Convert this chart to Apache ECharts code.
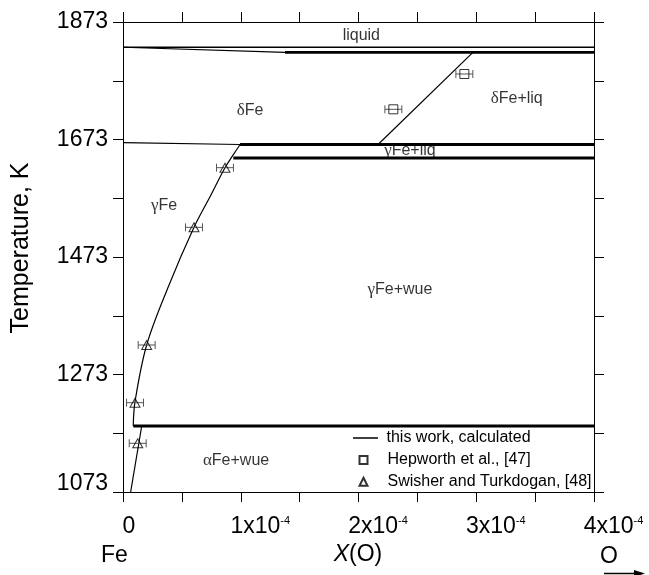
<!DOCTYPE html>
<html><head><meta charset="utf-8">
<script src="https://cdn.jsdelivr.net/npm/echarts@6/dist/echarts.min.js"></script>
<style>html,body{margin:0;padding:0;background:#fff}#c{width:649px;height:575px}</style>
</head><body><div id="c"></div>
<script>
const FONT = 'Liberation Sans, Arial, Helvetica, sans-serif';
const SERIF = 'Liberation Serif, Times New Roman, serif';

// ---- axes ----
const xMin = 0, xMax = 4e-4, xStep = 0.5e-4;
const tMin = 1073, tMax = 1873, tStep = 100;
const yTickLabels = [1073, 1273, 1473, 1673, 1873];
const xTickLabels = [0, 1e-4, 2e-4, 3e-4, 4e-4];

// ---- calculated phase boundaries (this work) ----
const liquidX = [0, 4e-4],            liquidT = [1830, 1830];
const deltaSolidusX = [0, 1.376e-4],  deltaSolidusT = [1830, 1821.4];
const monotecticX = [1.376e-4, 4e-4], monotecticT = [1821.4, 1821.4];
const deltaLiqX = [2.166e-4, 2.972e-4], deltaLiqT = [1664.5, 1821.4];
const deltaGammaX = [0, 0.994e-4],    deltaGammaT = [1667.6, 1664.5];
const peritecticX = [0.994e-4, 4e-4], peritecticT = [1664.5, 1664.5];
const gammaLiqX = [0.937e-4, 4e-4],   gammaLiqT = [1641.5, 1641.5];
const gammaSolvusX = [0.994e-4, 0.93e-4, 0.866e-4, 0.74e-4, 0.603e-4, 0.385e-4, 0.201e-4, 0.102e-4, 0.087e-4];
const gammaSolvusT = [1664.5, 1645, 1625, 1576, 1523.5, 1422.4, 1323.2, 1226.7, 1185.3];
const eutectoidX = [0.087e-4, 4e-4],  eutectoidT = [1185.3, 1185.3];
const alphaSolvusX = [0.159e-4, 0.065e-4], alphaSolvusT = [1185.3, 1073];

// ---- experimental ----
const hepX = [2.899e-4, 2.296e-4];
const hepT = [1784.5, 1724.4];
const hepErr = [0.072e-4, 0.072e-4];
const swiX = [0.866e-4, 0.603e-4, 0.201e-4, 0.102e-4, 0.125e-4];
const swiT = [1625, 1523.5, 1323.2, 1225, 1155.9];
const swiErr = [0.072e-4, 0.072e-4, 0.072e-4, 0.072e-4, 0.072e-4];

// ---- region labels ----
const regionText = ['liquid', 'δFe', 'δFe+liq', 'γFe+liq', 'γFe', 'γFe+wue', 'αFe+wue'];
const regionX = [2.024e-4, 1.079e-4, 3.344e-4, 2.437e-4, 0.348e-4, 2.352e-4, 0.960e-4];
const regionT = [1849.2, 1721.5, 1742.4, 1653.9, 1559.8, 1416.8, 1125.8];

const CALC = 'this work, calculated';
const HEP = 'Hepworth et al., [47]';
const SWI = 'Swisher and Turkdogan, [48]';

function zip(xs, ts) { return xs.map((x, i) => [x, ts[i]]); }
function zipErr(xs, ts, es) { return xs.map((x, i) => [x, ts[i], es[i]]); }

function calcLine(xs, ts, w, smooth) {
  return {
    type: 'line', name: CALC, data: zip(xs, ts), showSymbol: false, symbol: 'none',
    smooth: smooth || false, lineStyle: { color: '#000', width: w }, itemStyle: { color: '#000' },
    silent: true, z: 3, xAxisIndex: 0, yAxisIndex: 0
  };
}

function errBars(xs, ts, es) {
  return {
    type: 'custom', data: zipErr(xs, ts, es), silent: true, z: 4,
    renderItem: function (params, api) {
      const a = api.coord([api.value(0) - api.value(2), api.value(1)]);
      const b = api.coord([api.value(0) + api.value(2), api.value(1)]);
      const st = { stroke: '#555', lineWidth: 1 };
      return { type: 'group', children: [
        { type: 'line', shape: { x1: a[0], y1: a[1], x2: b[0], y2: b[1] }, style: st },
        { type: 'line', shape: { x1: a[0], y1: a[1] - 4, x2: a[0], y2: a[1] + 4 }, style: st },
        { type: 'line', shape: { x1: b[0], y1: b[1] - 4, x2: b[0], y2: b[1] + 4 }, style: st }
      ]};
    }
  };
}

function greekRich(s) {
  const g = s.charAt(0);
  if ('αγδ'.indexOf(g) >= 0) return '{g|' + g + '}{r|' + s.slice(1) + '}';
  return '{r|' + s + '}';
}

const chart = echarts.init(document.getElementById('c'), null, { renderer: 'canvas' });
const axisLine = { show: true, onZero: false, lineStyle: { color: '#000', width: 1 } };
const axisTick = { show: true, inside: false, length: 10, lineStyle: { color: '#000', width: 1 } };
const legendText = { fontFamily: FONT, fontSize: 16, color: '#000', lineHeight: 18 };

chart.setOption({
  animation: false,
  backgroundColor: '#fff',
  grid: { left: 123, top: 22, width: 471, height: 470, containLabel: false },
  xAxis: [
    { type: 'value', position: 'bottom', min: xMin, max: xMax, interval: xStep,
      axisLine: axisLine, axisTick: axisTick, splitLine: { show: false },
      axisLabel: {
        margin: 23, color: '#000', fontFamily: FONT, fontSize: 23,
        formatter: function (v) {
          const k = Math.round(v / xStep);
          if (k % 2) return '';
          const val = xTickLabels[k / 2];
          if (val === undefined) return '';
          if (val === 0) return '{p0|}{a|0}';
          return '{p|}{a|' + Math.round(val / 1e-4) + 'x10}{s|-4}';
        },
        rich: {
          p0: { width: 12 }, p: { width: 39 },
          a: { fontSize: 23, fontFamily: FONT, color: '#000' },
          s: { fontSize: 11, fontFamily: FONT, color: '#000', verticalAlign: 'top' }
        }
      } },
    { type: 'value', position: 'top', min: xMin, max: xMax, interval: xStep,
      axisLine: axisLine, axisTick: axisTick, axisLabel: { show: false }, splitLine: { show: false } }
  ],
  yAxis: [
    { type: 'value', position: 'left', min: tMin, max: tMax, interval: tStep,
      axisLine: axisLine, axisTick: axisTick, splitLine: { show: false },
      axisLabel: {
        margin: 15, color: '#000', fontFamily: FONT, fontSize: 23,
        formatter: function (v) {
          const r = Math.round(v);
          if (yTickLabels.indexOf(r) < 0) return '';
          if (r === tMin) return '{low|' + r + '}';
          return String(r);
        },
        rich: { low: { fontSize: 23, fontFamily: FONT, color: '#000', padding: [0, 0, 16, 0] } }
      } },
    { type: 'value', position: 'right', min: tMin, max: tMax, interval: tStep,
      axisLine: axisLine, axisTick: axisTick, axisLabel: { show: false }, splitLine: { show: false } }
  ],
  legend: [
    { orient: 'vertical', left: 353, top: 429, padding: 0,
      itemWidth: 25, itemHeight: 8, selectedMode: false, symbolKeepAspect: true,
      textStyle: Object.assign({ padding: [0, 0, 0, 3.5] }, legendText),
      data: [{ name: CALC, icon: 'path://M0,0H100V6H0Z', itemStyle: { color: '#000' } }] },
    { orient: 'vertical', left: 358.5, top: 451, padding: 0, itemGap: 3.7,
      itemWidth: 8, itemHeight: 8, selectedMode: false, symbolKeepAspect: true,
      textStyle: Object.assign({ padding: [0, 0, 0, 15] }, legendText),
      data: [HEP, SWI] }
  ],
  series: [
    calcLine(deltaSolidusX, deltaSolidusT, 1.2),
    calcLine(liquidX, liquidT, 1.6),
    calcLine(monotecticX, monotecticT, 2.8),
    calcLine(deltaLiqX, deltaLiqT, 1.2),
    calcLine(deltaGammaX, deltaGammaT, 1.2),
    calcLine(peritecticX, peritecticT, 2.8),
    calcLine(gammaLiqX, gammaLiqT, 2.8),
    calcLine(gammaSolvusX, gammaSolvusT, 1.2, 0.35),
    calcLine(eutectoidX, eutectoidT, 2.8),
    calcLine(alphaSolvusX, alphaSolvusT, 1.2),
    errBars(hepX, hepT, hepErr),
    errBars(swiX, swiT, swiErr),
    { type: 'scatter', name: HEP, data: zip(hepX, hepT), symbol: 'rect', symbolSize: 9, z: 5,
      itemStyle: { color: 'rgba(255,255,255,0)', borderColor: '#000', borderWidth: 1 }, silent: true },
    { type: 'scatter', name: SWI, data: zip(swiX, swiT), symbol: 'triangle', symbolSize: [10, 9], z: 5,
      itemStyle: { color: 'rgba(255,255,255,0)', borderColor: '#000', borderWidth: 1 }, silent: true },
    { type: 'scatter', name: 'regions', silent: true, symbolSize: 0.001, z: 6,
      data: regionText.map((t, i) => ({ name: t, value: [regionX[i], regionT[i]] })),
      itemStyle: { color: 'rgba(0,0,0,0)' },
      label: { show: true, position: [0, 0], align: 'center', verticalAlign: 'middle',
        formatter: function (p) { return greekRich(p.name); },
        rich: {
          g: { fontFamily: SERIF, fontSize: 17, color: '#000' },
          r: { fontFamily: FONT, fontSize: 16, color: '#000' }
        } } }
  ],
  graphic: [
    { type: 'text', x: 21, y: 248, rotation: Math.PI / 2,
      style: { text: 'Temperature, K', fontFamily: FONT, fontSize: 25, fill: '#000', align: 'center', verticalAlign: 'middle' } },
    { type: 'text', x: 101, y: 556,
      style: { text: 'Fe', fontFamily: FONT, fontSize: 23, fill: '#000', align: 'left', verticalAlign: 'middle' } },
    { type: 'text', x: 358, y: 555,
      style: { text: '{i|X}(O)', fontFamily: FONT, fontSize: 23, fill: '#000', align: 'center', verticalAlign: 'middle',
        rich: { i: { fontFamily: FONT, fontSize: 23, fontStyle: 'italic', fill: '#000' } } } },
    { type: 'text', x: 609, y: 557,
      style: { text: 'O', fontFamily: FONT, fontSize: 23, fill: '#000', align: 'center', verticalAlign: 'middle' } },
    { type: 'line', shape: { x1: 604, y1: 573.5, x2: 640, y2: 573.5 }, style: { stroke: '#000', lineWidth: 1.5 } },
    { type: 'polygon', shape: { points: [[634, 570], [645, 573.5], [634, 577]] }, style: { fill: '#000' } }
  ]
});
</script>
</body></html>
